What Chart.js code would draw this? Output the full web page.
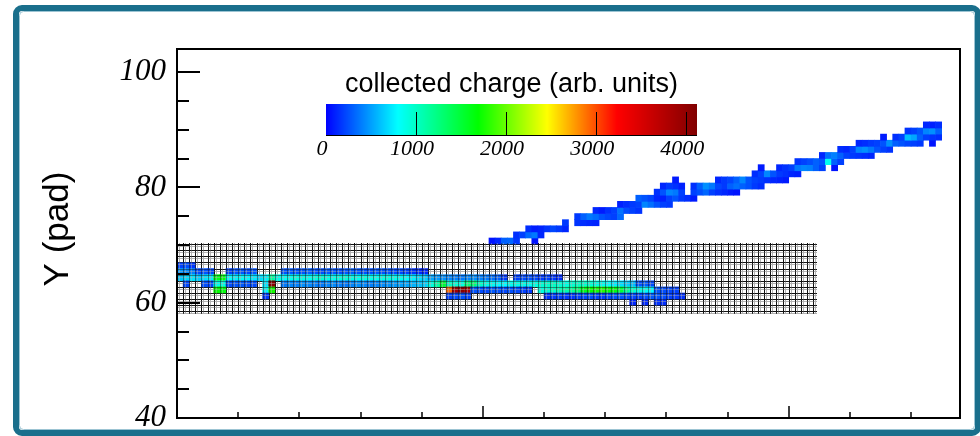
<!DOCTYPE html>
<html>
<head>
<meta charset="utf-8">
<title>Pad plane</title>
<script src="https://cdn.jsdelivr.net/npm/chart.js@4.4.1/dist/chart.umd.min.js"></script>
<style>
  html,body{margin:0;padding:0;background:#fff;}
  #wrap{width:980px;height:436px;position:relative;}
</style>
</head>
<body>
<div id="wrap"><canvas id="c" width="980" height="436"></canvas></div>
<script>
// pad plane geometry (columns x rows)
const padColumns=104;
const padRows=11;

// tick values
const yTickLabels=[40,60,80,100];
const chargeTicks=[0,1000,2000,3000,4000];
const chargeMax=4120;

// hits: [row, first pad column, charges of consecutive pads]
const lowerTrackRuns=[
  [7,0,[200,240,170]],
  [6,0,[480,440,400,230,260,220]],
  [6,8,[200,250,270,230,260]],
  [6,17,[260,280,250,270,300,260,240,280,260,250,270,290,260,250,240,270,260,250,230,220,200,160,130,110]],
  [5,0,[620,680,720,650,700,760,1600,1650,800,760,820,780,740,700,760,1150,880]],
  [5,17,[820,860,900,880,840,900,940,880,860,900,920,880,860,900,870,850,880,900,860,840,800,760,700,650]],
  [5,41,[520,480,450,420,400,380,420,450,400,380,350,300]],
  [5,53,[180]],
  [5,55,[200,230,250,220,180,200,170,140]],
  [4,1,[220]],
  [4,4,[240,220,880,900,240,260,280,250,230]],
  [4,14,[720,4050]],
  [4,17,[380,420,400,450,430,400,380,420,440,400,380,420,450,430,400,420,440,460,480,500,520,560,600,650]],
  [4,41,[900,1100,1500,1000,950,900,1250,1300,1000,900,850,800]],
  [4,53,[800,850,900,880,860,900,950,980,1000,950,900,950,1000,980,950,900,850,800,750,700,650,600]],
  [4,75,[250,280,220]],
  [3,6,[1700,1650]],
  [3,14,[780,1750]],
  [3,44,[2900,3900,4050,3850,260,240,220,280,250,220,250,230,200,180]],
  [3,59,[900,950,1000,1050,1100,1150,1300,1600,1700,1750,1800,1700,1650,1500,1200,1000,900,850,800]],
  [3,78,[260,240,220,200]],
  [2,14,[180]],
  [2,44,[200,230,250,210]],
  [2,60,[150,180,200,180,160,200,220,240,200,180,220,250,260,240,220,200,250,280,260,240,200,180,150]],
  [1,74,[120]],
  [1,76,[130]],
  [1,78,[150,140]]
];

const upperTrackRuns=[
  [11,51,[60,120,300,320,180]],
  [11,58,[60]],
  [12,55,[150,200,330,380,120]],
  [13,57,[140,90,110,160,220,180,120]],
  [14,63,[180]],
  [14,65,[160,140,120,110]],
  [15,65,[180,300,380,340,260,220,200,330]],
  [16,68,[120,80,150,200,360,240,200,160]],
  [17,72,[100,140,180,200,420,350,260,200,180]],
  [18,75,[300,260,220,120,100,200,260,180,140,80]],
  [19,78,[150,260,420,380,200]],
  [19,84,[200,250,320,200,150,120,80,60]],
  [20,79,[120,180,150,100]],
  [20,84,[150,300,450,380,220,180,300,350,300,250,180,140]],
  [21,81,[80]],
  [21,88,[120,180,220,300,420,260,200,180,150,120,100,80]],
  [22,94,[140,200,420,260,180,150,120,100]],
  [23,95,[80]],
  [23,98,[120,160,200,380,420,400,300,200]],
  [23,107,[60]],
  [24,101,[160,200,240,300,260,850,300,200]],
  [25,105,[120,350,400,300,200,180,160,140,120]],
  [26,108,[140,120,200,420,450,380,260,200,160]],
  [27,111,[120,140,180,200,260,450,300,260,220,200,180]],
  [27,123,[60]],
  [28,115,[80]],
  [28,117,[150,200,600,520,300,200,160,140]],
  [29,119,[160,200,260,420,450,300]],
  [30,122,[120,100,140]]
];

// pad pitch along y in axis units and lower edge of the pad plane
const ROW_H=1.06, Y0=58.5;

const stops=[[0,[0,0,255]],[0.194,[0,255,255]],[0.41,[0,255,0]],[0.596,[255,255,0]],[0.784,[255,0,0]],[1,[128,0,0]]];
function chargeColor(q){
  const t=Math.max(0,Math.min(1,q/chargeMax));
  for(let i=1;i<stops.length;i++){
    if(t<=stops[i][0]){
      const [t0,c0]=stops[i-1],[t1,c1]=stops[i];
      const f=(t-t0)/(t1-t0);
      const c=c0.map((v,k)=>Math.round(v+(c1[k]-v)*f));
      return `rgb(${c[0]},${c[1]},${c[2]})`;
    }
  }
  return "rgb(128,0,0)";
}

function toBars(runs){
  const out=[];
  runs.forEach(([row,first,qs])=>{
    const y=Y0+row*ROW_H;
    qs.forEach((q,i)=>out.push({x:first+i+0.5,y:[y,y+ROW_H],q}));
  });
  return out;
}

// pad outlines: a grey copy shifted by 2px and the black edge
function drawMesh(chart,alpha){
  const {ctx,scales:{x:xs,y:ys}}=chart;
  const left=Math.round(xs.getPixelForValue(0)), right=Math.round(xs.getPixelForValue(padColumns));
  const top=Math.round(ys.getPixelForValue(Y0+padRows*ROW_H)), bottom=Math.round(ys.getPixelForValue(Y0));
  ctx.save();
  ctx.globalAlpha=alpha;
  ctx.lineWidth=1;
  [["#b2b2b2",2],["#111",0]].forEach(([col,d])=>{
    ctx.strokeStyle=col;
    ctx.beginPath();
    for(let i=0;i<=padColumns;i++){
      const x=Math.round(xs.getPixelForValue(i))+0.5+d;
      ctx.moveTo(x,top-1); ctx.lineTo(x,bottom+3);
    }
    for(let j=0;j<=padRows;j++){
      const y=Math.round(ys.getPixelForValue(Y0+j*ROW_H))+0.5+d;
      ctx.moveTo(left,y); ctx.lineTo(right+4,y);
    }
    ctx.stroke();
  });
  ctx.restore();
}

const padPlane={
  id:"padPlane",
  beforeDraw(chart){
    const ctx=chart.ctx;
    ctx.save(); ctx.fillStyle="#fff"; ctx.fillRect(0,0,chart.width,chart.height); ctx.restore();
  },
  beforeDatasetsDraw(chart){ drawMesh(chart,1); },
  afterDatasetsDraw(chart){ drawMesh(chart,0.45); },
  afterDraw(chart){
    const {ctx,chartArea:a,scales:{x:xs,y:ys}}=chart;
    ctx.save();
    // axis ticks, pointing inwards
    ctx.strokeStyle="#000";
    ctx.lineWidth=2;
    ctx.beginPath();
    ys.ticks.forEach(t=>{
      if(t.value%5) return;
      const y=Math.round(ys.getPixelForValue(t.value));
      const len=t.value%20===0?23:12;
      ctx.moveTo(a.left,y); ctx.lineTo(a.left+len,y);
    });
    ctx.stroke();
    ctx.lineWidth=1.5;
    ctx.beginPath();
    xs.ticks.forEach(t=>{
      if(t.value%10) return;
      const x=Math.round(xs.getPixelForValue(t.value));
      const len=t.value%50===0?12:6;
      ctx.moveTo(x,a.bottom); ctx.lineTo(x,a.bottom-len);
    });
    ctx.stroke();
    // frame
    ctx.lineWidth=2;
    ctx.strokeRect(a.left,a.top,a.right-a.left,a.bottom-a.top);

    // y title, rotated
    ctx.save();
    ctx.translate(68,229);
    ctx.rotate(-Math.PI/2);
    ctx.fillStyle="#000";
    ctx.textAlign="center";
    ctx.textBaseline="alphabetic";
    ctx.font="35px 'Liberation Sans'";
    ctx.fillText("Y (pad)",0,0);
    ctx.restore();

    // colour scale
    const bx=326,by=104,bw=371,bh=31;
    for(let i=0;i<bw;i++){
      ctx.fillStyle=chargeColor(chargeMax*(i+0.5)/bw);
      ctx.fillRect(bx+i,by,1,bh);
    }
    ctx.strokeStyle="#000";
    ctx.lineWidth=1;
    ctx.beginPath();
    chargeTicks.forEach(v=>{
      if(!v) return;
      const x=Math.round(bx+bw*v/chargeMax)+0.5;
      ctx.moveTo(x,by+bh); ctx.lineTo(x,by+8);
    });
    ctx.moveTo(bx,by+bh+0.5); ctx.lineTo(bx+bw,by+bh+0.5);
    ctx.stroke();
    ctx.fillStyle="#000";
    ctx.textAlign="center";
    ctx.textBaseline="middle";
    ctx.font="italic 22px 'Liberation Serif'";
    chargeTicks.forEach(v=>ctx.fillText(String(v),bx+bw*v/chargeMax-4,149));
    ctx.font="27px 'Liberation Sans'";
    ctx.fillText("collected charge (arb. units)",bx+bw/2,85);

    // canvas border
    ctx.strokeStyle="#1a6f8c";
    ctx.lineWidth=6;
    ctx.beginPath();
    ctx.roundRect(16,8,962,425,6);
    ctx.stroke();
    ctx.strokeStyle="#9cc4d3";
    ctx.lineWidth=1;
    ctx.beginPath();
    ctx.roundRect(19.5,11.5,955,418,4);
    ctx.stroke();
    ctx.restore();
  }
};

new Chart(document.getElementById("c"),{
  type:"bar",
  data:{
    datasets:[{
      data:toBars(lowerTrackRuns).concat(toBars(upperTrackRuns)),
      backgroundColor:c=>c.raw?chargeColor(c.raw.q):"#00f",
      borderWidth:0,
      barPercentage:1,
      categoryPercentage:1,
      grouped:false
    }]
  },
  plugins:[padPlane],
  options:{
    responsive:false,
    animation:false,
    devicePixelRatio:1,
    layout:{padding:{top:49,right:20,left:0,bottom:0}},
    plugins:{legend:{display:false},tooltip:{enabled:false}},
    scales:{
      x:{
        type:"linear",min:0,max:128,offset:false,
        grid:{display:false,offset:false},
        border:{display:false},
        ticks:{display:false,stepSize:10,includeBounds:false},
        afterFit(s){ s.height=18; s.paddingLeft=0; s.paddingRight=0; }
      },
      y:{
        type:"linear",min:40,max:104,
        grid:{display:false,drawTicks:false},
        border:{display:false},
        ticks:{
          stepSize:5,includeBounds:false,autoSkip:false,padding:11,color:"#000",
          font:{family:"Liberation Serif",style:"italic",size:31},
          callback:v=>yTickLabels.includes(v)?String(v):""
        },
        afterFit(s){ s.width=177; s.paddingTop=0; s.paddingBottom=0; }
      }
    }
  }
});
</script>
</body>
</html>
